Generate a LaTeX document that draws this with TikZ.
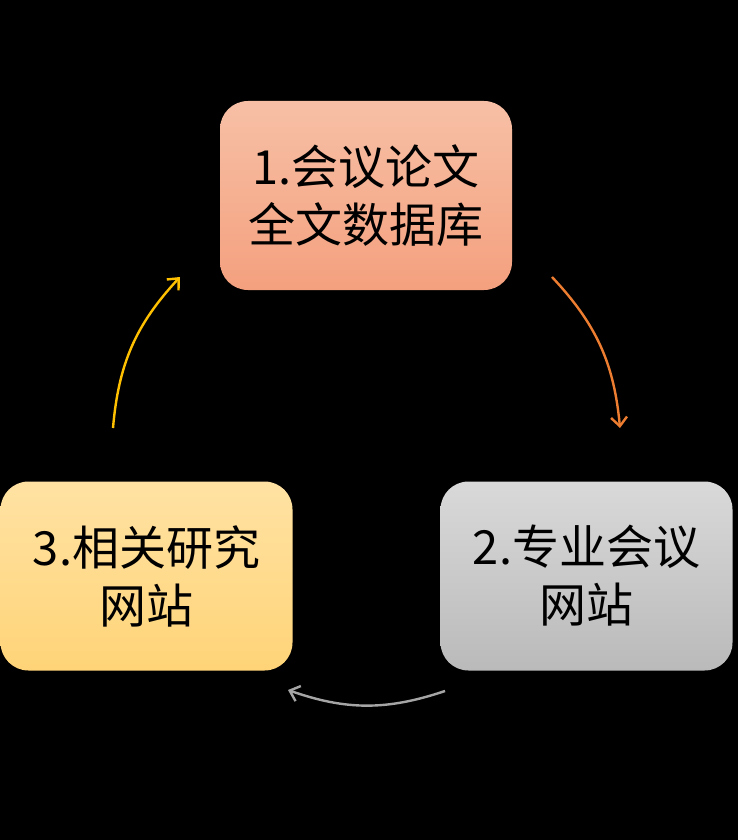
\documentclass[tikz,border=0pt]{standalone}
\usepackage{fontspec}
\newfontfamily\cjk{Noto Sans CJK SC}
\usetikzlibrary{arrows.meta}
\definecolor{arrOrange}{HTML}{ED7D31}
\definecolor{arrGold}{HTML}{FFC000}
\definecolor{arrGray}{HTML}{A5A5A5}
\begin{document}
\begin{tikzpicture}[x=1pt,y=-1pt,
  card/.style={rounded corners=28pt, minimum width=292pt, minimum height=189pt,
    align=center, text=black, inner sep=0pt,
    font=\cjk\fontsize{47}{58}\selectfont},
  flow/.style={line width=2.4pt, -{Straight Barb[length=9pt,width=16pt,line width=2.4pt]}}
]
\fill[black] (0,0) rectangle (738,840);
\useasboundingbox (0,0) rectangle (738,840);
\node[card, top color={rgb,255:red,247;green,192;blue,166}, bottom color={rgb,255:red,244;green,160;blue,126}] (n1) at (366,195.5) {1.会议论文\\全文数据库};
\node[card, top color={rgb,255:red,217;green,217;blue,217}, bottom color={rgb,255:red,186;green,186;blue,186}] (n2) at (586.5,576) {2.专业会议\\网站};
\node[card, top color={rgb,255:red,255;green,226;blue,163}, bottom color={rgb,255:red,255;green,212;blue,120}] (n3) at (146.5,576) {3.相关研究\\网站};
\coordinate (o1) at (552,277);
\coordinate (o2) at (620,428);
\coordinate (g1) at (445,691);
\coordinate (g2) at (288,690);
\coordinate (y1) at (113,428);
\coordinate (y2) at (180,277);
\draw[flow, arrOrange] (o1) to[bend left=19] (o2);
\draw[flow, arrGray] (g1) to[bend left=19] (g2);
\draw[flow, arrGold] (y1) to[bend left=19] (y2);
\end{tikzpicture}
\end{document}
